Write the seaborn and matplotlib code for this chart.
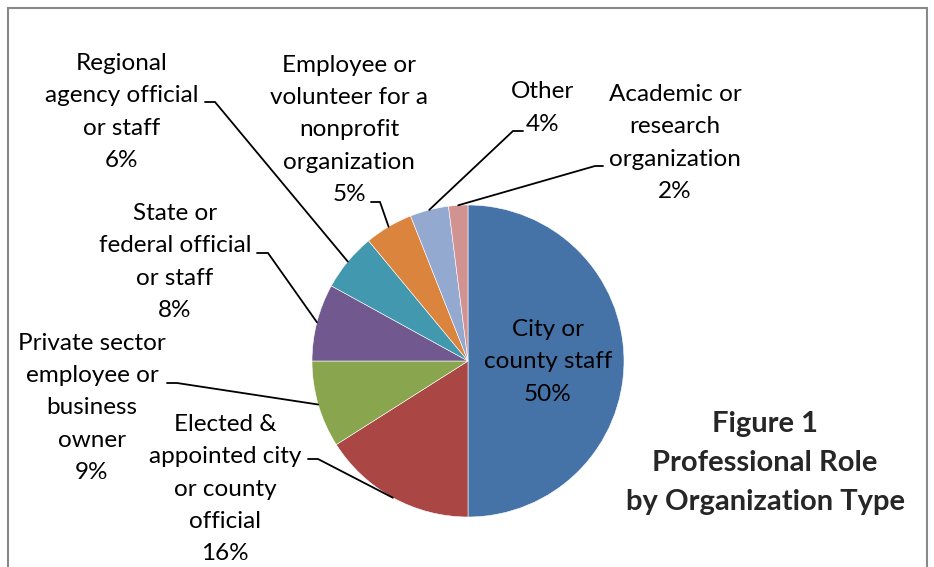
import numpy as np
import matplotlib
matplotlib.use("Agg")
import matplotlib.pyplot as plt
import seaborn as sns
from matplotlib.patches import Rectangle

# data
labels = ["City or\ncounty staff\n50%",
          "Elected &\nappointed city\nor county\nofficial\n16%",
          "Private sector\nemployee or\nbusiness\nowner\n9%",
          "State or\nfederal official\nor staff\n8%",
          "Regional\nagency official\nor staff\n6%",
          "Employee or\nvolunteer for a\nnonprofit\norganization\n5%",
          "Other\n4%",
          "Academic or\nresearch\norganization\n2%"]
values = [50, 16, 9, 8, 6, 5, 4, 2]
colors = ["#4572A7", "#AA4643", "#89A54E", "#71588F",
          "#4198AF", "#DB843D", "#93A9CF", "#D19392"]
title = "Figure 1\nProfessional Role\nby Organization Type"

# layout (pixels in a 934x567 figure)
W, H = 934, 567
cx, cy, R = 468, 361, 156
# label centre (x, y) and the stub of the leader line (x0, x1, y)
label_pos = [(548, 362), (225, 489), (92, 408), (175, 262),
             (122, 112), (349, 130), (543, 108), (675, 143)]
stubs = [None, (308, 318, 459), (167, 177, 383), (257, 268, 253),
         (205, 215, 102), (371, 380, 202), (523, 513, 131), (603, 595, 166)]

def px(x, y):
    return (x - cx) / R, (cy - y) / R

sns.set_theme(style="white")
plt.rcParams['font.family'] = ['Lato', 'DejaVu Sans']

fig = plt.figure(figsize=(W / 100, H / 100), dpi=100)
ax = fig.add_axes([0, 0, 1, 1])
wedges, _ = ax.pie(values, colors=colors, startangle=90, counterclock=False,
                   radius=1, wedgeprops=dict(edgecolor="white", linewidth=0.4))
ax.set_xlim(-cx / R, (W - cx) / R)
ax.set_ylim((cy - H) / R, cy / R)
ax.axis("off")

for i, w in enumerate(wedges):
    tx, ty = px(*label_pos[i])
    ax.text(tx, ty, labels[i], ha="center", va="center", fontsize=17.5,
            multialignment="center", linespacing=1.66, color="black")
    if stubs[i] is not None:
        mid = np.deg2rad((w.theta1 + w.theta2) / 2)
        ex, ey = np.cos(mid), np.sin(mid)
        x0, y0 = px(stubs[i][0], stubs[i][2])
        x1, y1 = px(stubs[i][1], stubs[i][2])
        ax.plot([x0, x1, ex], [y0, y1, ey], color="black", lw=1.3,
                solid_joinstyle="miter")

tx, ty = px(765, 463)
ax.text(tx, ty, title, ha="center", va="center", fontsize=21, fontweight="bold",
        multialignment="center", linespacing=1.64)

# chart border
fx0, fy0 = px(8, 8)
fx1, fy1 = px(927, 600)
ax.add_patch(Rectangle((fx0, fy1), fx1 - fx0, fy0 - fy1, fill=False,
                       edgecolor="#888888", lw=1.5, clip_on=False))

fig.savefig("out.png", dpi=100)
